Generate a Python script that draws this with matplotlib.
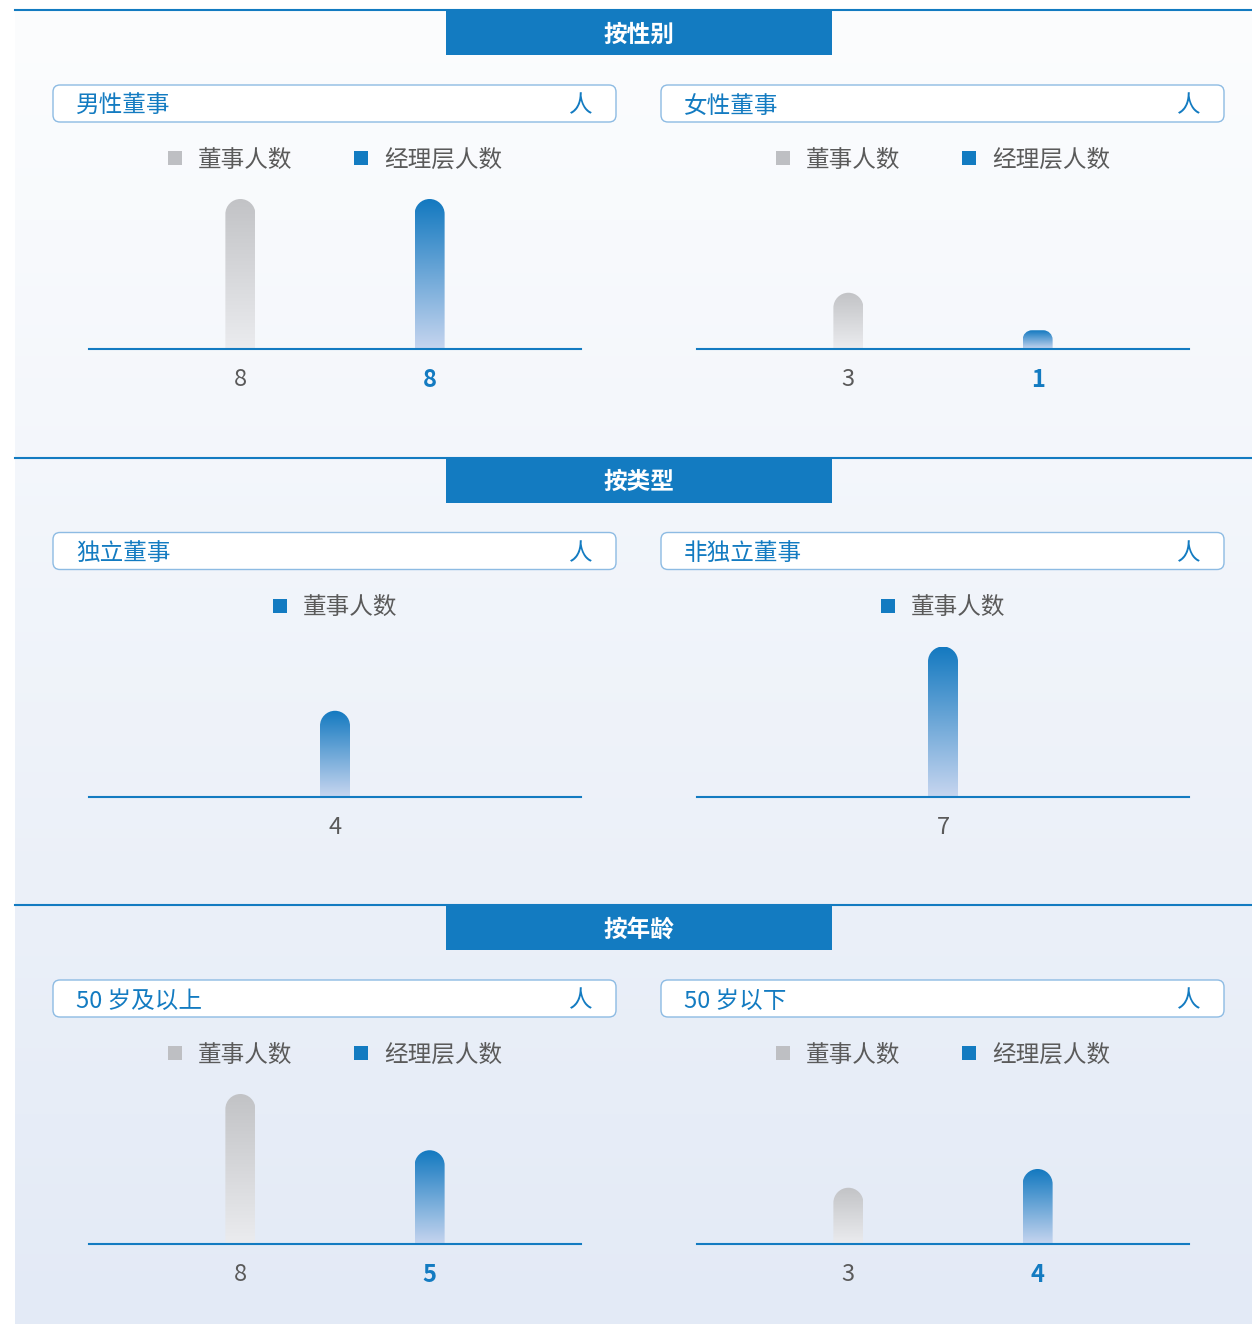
import numpy as np
import matplotlib
matplotlib.use("Agg")
import matplotlib.pyplot as plt
from matplotlib.patches import Rectangle, FancyBboxPatch, PathPatch
from matplotlib.path import Path
from matplotlib.colors import LinearSegmentedColormap, to_rgb

plt.rcParams['font.family'] = ['Noto Sans CJK SC', 'DejaVu Sans']

# 数据
SECTIONS = ['按性别', '按类型', '按年龄']
PANEL_TITLES = [['男性董事', '女性董事'],
                ['独立董事', '非独立董事'],
                ['50 岁及以上', '50 岁以下']]
UNIT = '人'
SERIES = ['董事人数', '经理层人数']

gender_directors = [8, 3]   # 男, 女
gender_managers = [8, 1]
type_directors = [4, 7]     # 独立, 非独立
age_directors = [8, 3]      # 50岁及以上, 50岁以下
age_managers = [5, 4]

# 每个小图: 系列名 -> 数值
panels = [
    [{'董事人数': gender_directors[0], '经理层人数': gender_managers[0]},
     {'董事人数': gender_directors[1], '经理层人数': gender_managers[1]}],
    [{'董事人数': type_directors[0]},
     {'董事人数': type_directors[1]}],
    [{'董事人数': age_directors[0], '经理层人数': age_managers[0]},
     {'董事人数': age_directors[1], '经理层人数': age_managers[1]}],
]

# 样式
W, H = 1252, 1324
BLUE = '#137bc1'
GREY_SQ = '#bebfc3'
TXT_GREY = '#5a5a5a'
SEC_STEP = 447.5
FS = 17
grad_grey = ('#ebecef', '#c2c3c6')   # bottom, top
grad_blue = ('#c6d5ef', '#1379c0')

fig = plt.figure(figsize=(W / 100, H / 100), dpi=100)
bg = fig.add_axes([0, 0, 1, 1])
bg.set_xlim(0, W)
bg.set_ylim(H, 0)
bg.axis('off')

# 背景渐变
c_top, c_bot = np.array(to_rgb('#fcfdfe')), np.array(to_rgb('#e3eaf6'))
t = np.linspace(0, 1, 300)[:, None, None]
grad = c_top * (1 - t) + c_bot * t
bg.imshow(grad, extent=(15, W, H, 10), aspect='auto', origin='upper', zorder=0)


def px2fig(x, y, w, h):
    return [x / W, 1 - (y + h) / H, w / W, h / H]


def rounded_bar(ax, x, v, w, px_x, px_y, cols):
    h_px = v * px_y
    r = min(15, h_px / 2, w * px_x / 2)
    rx, ry = r / px_x, r / px_y
    x0, x1 = x - w / 2, x + w / 2
    k = 0.5523
    verts = [(x0, 0), (x0, v - ry),
             (x0, v - ry + k * ry), (x0 + rx - k * rx, v), (x0 + rx, v),
             (x1 - rx, v),
             (x1 - rx + k * rx, v), (x1, v - ry + k * ry), (x1, v - ry),
             (x1, 0), (x0, 0)]
    codes = [Path.MOVETO, Path.LINETO,
             Path.CURVE4, Path.CURVE4, Path.CURVE4,
             Path.LINETO,
             Path.CURVE4, Path.CURVE4, Path.CURVE4,
             Path.LINETO, Path.CLOSEPOLY]
    patch = PathPatch(Path(verts, codes), fc='none', ec='none')
    ax.add_patch(patch)
    cmap = LinearSegmentedColormap.from_list('g', list(cols))
    im = ax.imshow(np.linspace(0, 1, 256).reshape(-1, 1), cmap=cmap,
                   extent=(x0, x1, 0, v), origin='lower', aspect='auto', zorder=2)
    im.set_clip_path(patch)


for s, sec in enumerate(SECTIONS):
    y0 = 10 + SEC_STEP * s
    bg.plot([15, W], [y0, y0], color=BLUE, lw=1.5, zorder=3)
    bg.add_patch(Rectangle((446, y0), 386, 45, fc=BLUE, ec='none', zorder=3))
    bg.text(639, y0 + 24.5, sec, color='white', fontsize=FS, fontweight='bold',
            ha='center', va='center', zorder=4)

    ymax = max(max(p.values()) for p in panels[s])
    for c in range(2):
        xoff = 608 * c
        # 标题框
        bg.add_patch(FancyBboxPatch((53 + xoff, y0 + 75), 563, 37,
                                    boxstyle='round,pad=0,rounding_size=7',
                                    fc='white', ec='#8dbbe3', lw=1.0, zorder=3))
        bg.text(76 + xoff, y0 + 96, PANEL_TITLES[s][c], color=BLUE, fontsize=FS,
                ha='left', va='center', zorder=4)
        bg.text(581 + xoff, y0 + 96, UNIT, color=BLUE, fontsize=FS,
                ha='center', va='center', zorder=4)

        data = panels[s][c]
        names = list(data.keys())
        vals = list(data.values())
        single = len(names) == 1

        # 图例
        char_w = 23.6
        widths = [14 + 16 + len(nm) * char_w for nm in names]
        total = sum(widths) + 62 * (len(names) - 1)
        lx = 335 + xoff - total / 2
        ly = y0 + 148
        for nm, wd in zip(names, widths):
            sq = BLUE if (nm == '经理层人数' or single) else GREY_SQ
            bg.add_patch(Rectangle((lx, ly - 7), 14, 14, fc=sq, ec='none', zorder=3))
            bg.text(lx + 30, ly + 2, nm, color=TXT_GREY, fontsize=FS,
                    ha='left', va='center', zorder=4)
            lx += wd + 62

        # 柱状图
        base = y0 + 339
        ax = fig.add_axes(px2fig(89 + xoff, base - 150, 492, 150))
        ax.patch.set_alpha(0)
        xs = np.arange(len(vals))
        ax.set_xlim(-0.8, len(vals) - 1 + 0.8)
        ax.set_ylim(0, ymax)
        px_x = 492 / (len(vals) - 1 + 1.6)
        px_y = 150 / ymax
        bw = 30 / px_x
        for x, nm, v in zip(xs, names, vals):
            is_mgr = nm == '经理层人数'
            cols = grad_blue if (is_mgr or single) else grad_grey
            rounded_bar(ax, x, v, bw, px_x, px_y, cols)
            ax.annotate(str(v), xy=(x, 0), xytext=(0, -22), textcoords='offset points',
                        ha='center', va='center', fontsize=17,
                        color=BLUE if is_mgr else TXT_GREY,
                        fontweight='bold' if is_mgr else 'normal',
                        annotation_clip=False)
        for sp in ['top', 'left', 'right']:
            ax.spines[sp].set_visible(False)
        ax.spines['bottom'].set_color(BLUE)
        ax.spines['bottom'].set_linewidth(1.5)
        ax.spines['bottom'].set_zorder(5)
        ax.set_xticks([])
        ax.set_yticks([])

fig.savefig('out.png', dpi=100)
